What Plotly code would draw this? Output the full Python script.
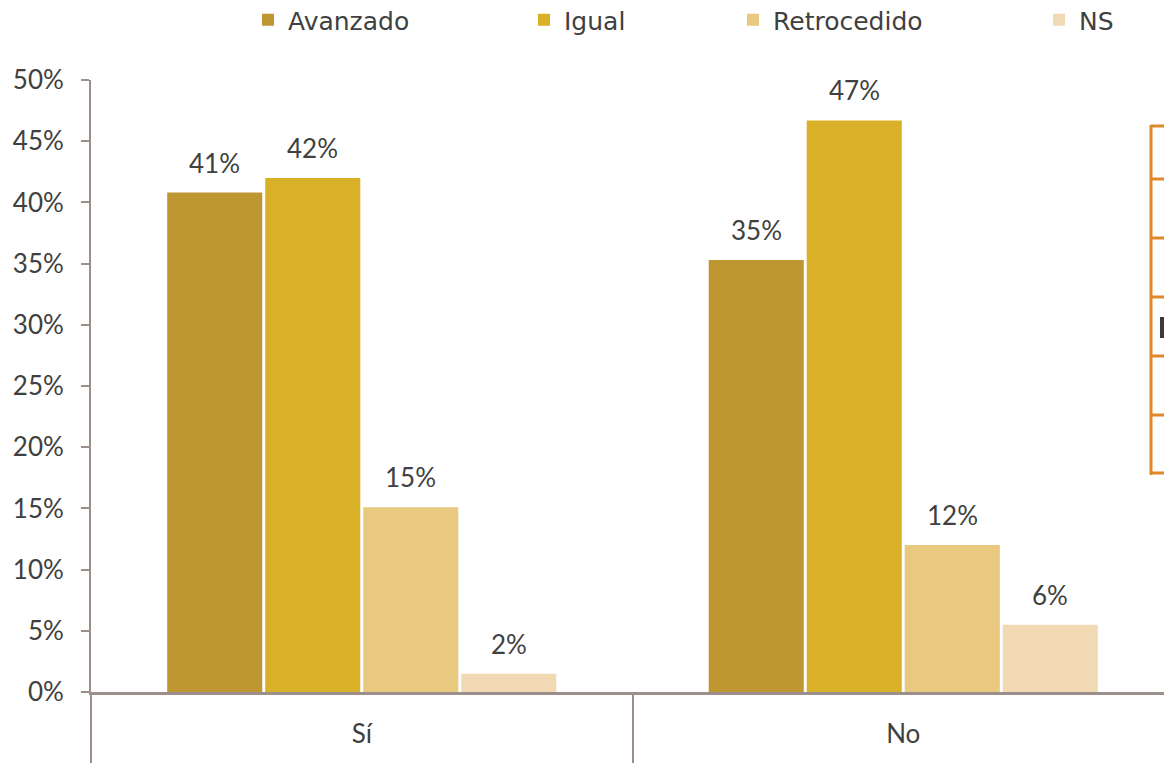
import plotly.graph_objects as go

# ---------------- data ----------------
categories = ["Sí", "No"]
series_names = ["Avanzado", "Igual", "Retrocedido", "NS"]
avanzado = [40.8, 35.3]
igual = [42.0, 46.7]
retrocedido = [15.1, 12.0]
ns = [1.5, 5.5]
labels_avanzado = ["41%", "35%"]
labels_igual = ["42%", "47%"]
labels_retrocedido = ["15%", "12%"]
labels_ns = ["2%", "6%"]
y_tick_values = [0, 5, 10, 15, 20, 25, 30, 35, 40, 45, 50]
y_tick_labels = ["0%", "5%", "10%", "15%", "20%", "25%", "30%", "35%", "40%", "45%", "50%"]

series_values = [avanzado, igual, retrocedido, ns]
series_labels = [labels_avanzado, labels_igual, labels_retrocedido, labels_ns]
colors = ["#BE9733", "#D9B128", "#E9C87F", "#F1D9B4"]

# ---------------- layout constants ----------------
W, H = 1164, 763
ML, MR, MT, MB = 91, 0, 80, 71
FONT = "Lato"
LEGFONT = "DejaVu Sans"
FS = 26
TXT = "#404040"
AXC = "#9C8F8B"
ORANGE = "#E0892B"
BARGAP = 0.276
BARGROUPGAP = 0.03
XMAX = 1.4815

plot_w = W - ML - MR
plot_h = H - MT - MB
cat_px = plot_w / (XMAX + 0.5)
slot_px = cat_px * (1 - BARGAP) / len(series_names)

fig = go.Figure()
legend_keys = ["legend", "legend2", "legend3", "legend4"]
for i, (name, vals, col) in enumerate(zip(series_names, series_values, colors)):
    fig.add_trace(go.Bar(
        x=categories, y=vals, name=name, marker_color=col,
        marker_line_width=0, legend=legend_keys[i],
        hovertemplate="%{x}: %{y}%<extra>" + name + "</extra>",
    ))

annotations = []
for i, labs in enumerate(series_labels):
    for c, v, t in zip(categories, series_values[i], labs):
        annotations.append(dict(
            x=c, y=v, xref="x", yref="y", text=t, showarrow=False,
            yanchor="bottom", xanchor="center",
            xshift=(i - 1.5) * slot_px, yshift=12,
            font=dict(family=FONT, size=FS, color=TXT),
        ))

# decoration on the right edge (partial bracket)
def px_x(px):
    return (px - ML) / plot_w

def px_y(py):
    return (MT + plot_h - py) / plot_h

shapes = [dict(type="line", xref="paper", yref="paper",
               x0=px_x(1151), x1=px_x(1151), y0=px_y(125), y1=px_y(475),
               line=dict(color=ORANGE, width=3))]
for py in [126, 179, 238, 297, 356, 415, 473]:
    shapes.append(dict(type="line", xref="paper", yref="paper",
                       x0=px_x(1151), x1=px_x(1166), y0=px_y(py), y1=px_y(py),
                       line=dict(color=ORANGE, width=3)))
shapes.append(dict(type="rect", xref="paper", yref="paper",
                   x0=px_x(1160), x1=px_x(1165), y0=px_y(338), y1=px_y(317),
                   fillcolor="#3a3a3a", line=dict(width=0)))

legend_x = [248, 524, 733, 1039]
legend_common = dict(orientation="h", xref="container", yref="container",
                     y=1.0 - 20 / H, yanchor="middle", xanchor="left",
                     bgcolor="rgba(0,0,0,0)", borderwidth=0,
                     font=dict(family=LEGFONT, size=FS - 1, color=TXT))
legends = {}
for k, lx in zip(legend_keys, legend_x):
    legends[k] = dict(legend_common, x=lx / W)

fig.update_layout(
    width=W, height=H,
    margin=dict(l=ML, r=MR, t=MT, b=MB, pad=0),
    paper_bgcolor="white", plot_bgcolor="white",
    barmode="group", bargap=BARGAP, bargroupgap=BARGROUPGAP,
    font=dict(family=FONT, size=FS, color=TXT),
    annotations=annotations, shapes=shapes,
    showlegend=True,
    **legends,
)
fig.update_xaxes(
    type="category", range=[-0.5, XMAX],
    showline=True, linecolor=AXC, linewidth=3,
    ticks="outside", tickson="boundaries", ticklen=71, tickwidth=2, tickcolor=AXC,
    ticklabelstandoff=17,
    showgrid=False, zeroline=False,
    tickfont=dict(family=FONT, size=FS, color=TXT),
)
fig.update_yaxes(
    range=[0, 50], tickvals=y_tick_values, ticktext=y_tick_labels,
    showline=True, linecolor=AXC, linewidth=2,
    ticks="outside", ticklen=8, tickwidth=2, tickcolor=AXC,
    ticklabelstandoff=12,
    showgrid=False, zeroline=False,
    tickfont=dict(family=FONT, size=FS, color=TXT),
)

fig.write_html("out.html", config={"displayModeBar": False},
               post_script="document.body.style.margin='0px';")
